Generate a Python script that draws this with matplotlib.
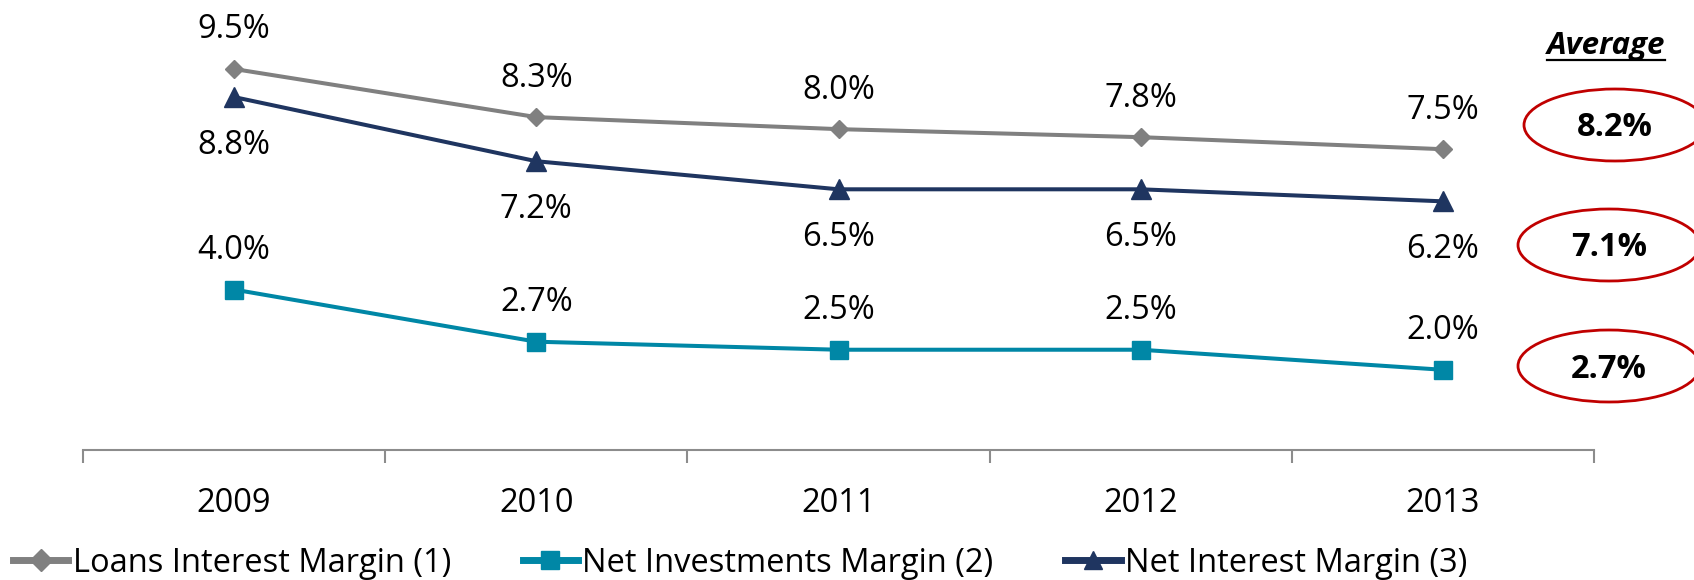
import matplotlib
matplotlib.use("Agg")
import matplotlib.pyplot as plt
from matplotlib.patches import Ellipse
from matplotlib.lines import Line2D

# data
years = ["2009", "2010", "2011", "2012", "2013"]
loans_margin = [9.5, 8.3, 8.0, 7.8, 7.5]
invest_margin = [4.0, 2.7, 2.5, 2.5, 2.0]
interest_margin = [8.8, 7.2, 6.5, 6.5, 6.2]
series_names = ["Loans Interest Margin (1)", "Net Investments Margin (2)", "Net Interest Margin (3)"]
averages = [8.2, 7.1, 2.7]

GRAY = "#808080"
TEAL = "#0087A6"
NAVY = "#1F3560"
RED = "#C00000"
AXIS = "#8C8C8C"

plt.rcParams["font.family"] = ["Open Sans", "DejaVu Sans"]

W, H = 1694, 580
fig = plt.figure(figsize=(W / 100, H / 100), dpi=100)
ax = fig.add_axes([83 / W, 130 / H, 1511 / W, 450 / H])

x = list(range(len(years)))
ax.plot(x, loans_margin, color=GRAY, lw=2.9, marker="D", ms=9, zorder=3)
ax.plot(x, invest_margin, color=TEAL, lw=2.9, marker="s", ms=13.5, zorder=3)
ax.plot(x, interest_margin, color=NAVY, lw=2.9, marker="^", ms=14, zorder=4)

# data labels (loans & investments above, net interest below)
for i in x:
    ax.annotate(f"{loans_margin[i]:.1f}%", (i, loans_margin[i]), xytext=(0, 22),
                textcoords="offset points", ha="center", va="baseline", fontsize=23.5)
    ax.annotate(f"{invest_margin[i]:.1f}%", (i, invest_margin[i]), xytext=(0, 22),
                textcoords="offset points", ha="center", va="baseline", fontsize=23.5)
    ax.annotate(f"{interest_margin[i]:.1f}%", (i, interest_margin[i]), xytext=(0, -41),
                textcoords="offset points", ha="center", va="baseline", fontsize=23.5)

ax.set_xlim(-0.5, len(years) - 0.5)
ax.set_ylim(0, 11.22)
ax.set_yticks([])
ax.set_xticks([i - 0.5 for i in range(len(years) + 1)])
ax.set_xticklabels([])
ax.set_xticks(x, minor=True)
ax.set_xticklabels(years, minor=True)
ax.tick_params(axis="x", which="major", direction="out", length=9, width=1.5, color=AXIS)
ax.tick_params(axis="x", which="minor", length=0, pad=26.5, labelsize=23.5)
for s in ["top", "left", "right"]:
    ax.spines[s].set_visible(False)
ax.spines["bottom"].set_color(AXIS)
ax.spines["bottom"].set_linewidth(1.5)

# legend with chunkier handles
handles = [
    Line2D([], [], color=GRAY, lw=5, marker="D", ms=11),
    Line2D([], [], color=TEAL, lw=5, marker="s", ms=13),
    Line2D([], [], color=NAVY, lw=5, marker="^", ms=13),
]
fig.legend(handles, series_names, loc="center left", bbox_to_anchor=(13 / W, 17 / H),
           ncol=3, frameon=False, fontsize=23.5, handlelength=1.7, handletextpad=0.125,
           columnspacing=2.2, borderpad=0, borderaxespad=0)

# averages column on the right, in pixel coords
ov = fig.add_axes([0, 0, 1, 1])
ov.set_xlim(0, W)
ov.set_ylim(H, 0)
ov.axis("off")
ov.text(1606, 54, "Average", ha="center", va="baseline", fontsize=22.5,
        fontweight="bold", fontstyle="italic")
ov.plot([1547, 1665], [60, 60], color="black", lw=1.6)
centers = [(1615, 125), (1609, 245), (1609, 366)]
for (cx, cy), avg in zip(centers, averages):
    ov.add_patch(Ellipse((cx, cy), 182, 72, fill=False, ec=RED, lw=2))
    ov.text(cx, cy + 11.5, f"{avg:.1f}%", ha="center", va="baseline", fontsize=23.5,
            fontweight="bold")

fig.savefig("out.png", dpi=100)
